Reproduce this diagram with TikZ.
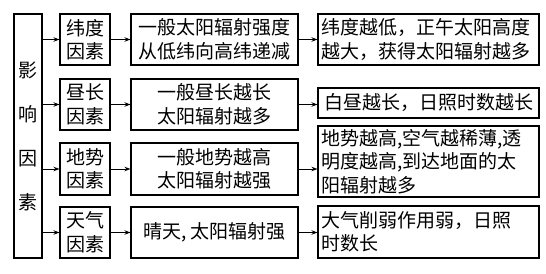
\documentclass[tikz,border=0pt]{standalone}
\usepackage{fontspec}
\setmainfont{Noto Sans CJK SC}
\usetikzlibrary{arrows.meta}
\begin{document}
\begin{tikzpicture}[x=1pt,y=1pt,
  box/.style={draw=black,line width=1.1pt,rectangle,inner sep=0pt,
    font=\fontsize{19}{23.5}\selectfont},
  cbox/.style={box,align=center},
  lbox/.style={box,align=left,text width=#1},
  arr/.style={line width=0.9pt,-{Stealth[length=6pt,width=4.5pt]}}
]
\useasboundingbox (0,0) rectangle (546,273);
% left box
\node[box,minimum width=28pt,minimum height=244pt,align=center,
  font=\fontsize{19}{44}\selectfont] (L) at (28,137) {影\\响\\因\\素};
% column 2
\node[cbox,minimum width=50pt,minimum height=51pt] (A1) at (85,233.5) {纬度\\因素};
\node[cbox,minimum width=50pt,minimum height=51pt] (A2) at (85,168.5) {昼长\\因素};
\node[cbox,minimum width=50pt,minimum height=52pt] (A3) at (85,104) {地势\\因素};
\node[cbox,minimum width=50pt,minimum height=51pt] (A4) at (85,40.5) {天气\\因素};
% column 3
\node[cbox,minimum width=167pt,minimum height=51pt] (B1) at (214.5,233.5) {一般太阳辐射强度\\从低纬向高纬递减};
\node[cbox,minimum width=167pt,minimum height=51pt] (B2) at (214.5,168.5) {一般昼长越长\\太阳辐射越多};
\node[cbox,minimum width=167pt,minimum height=52pt] (B3) at (214.5,104) {一般地势越高\\太阳辐射越强};
\node[cbox,minimum width=167pt,minimum height=51pt] (B4) at (214.5,40.5) {晴天, 太阳辐射强};
% column 4
\node[lbox=215pt,minimum width=221pt,minimum height=51pt] (C1) at (428.5,233.5) {纬度越低，正午太阳高度\\越大，获得太阳辐射越多};
\node[cbox,minimum width=221pt,minimum height=30pt] (C2) at (428.5,170) {白昼越长，日照时数越长};
\node[lbox=215pt,minimum width=221pt,minimum height=71pt] (C3) at (428.5,111.5) {地势越高,空气越稀薄,透\\明度越高,到达地面的太\\阳辐射越多};
\node[lbox=215pt,minimum width=221pt,minimum height=52pt] (C4) at (428.5,41) {大气削弱作用弱，日照\\时数长};
% arrows
\foreach \i in {1,2,3,4}{
  \draw[arr] (L.east |- A\i.west) -- (A\i.west);
  \draw[arr] (A\i.east) -- (B\i.west);
}
\draw[arr] (B1.east) -- (B1.east -| C1.west);
\draw[arr] (B2.east) -- (B2.east -| C2.west);
\draw[arr] (B3.east) -- (B3.east -| C3.west);
\draw[arr] (B4.east) -- (B4.east -| C4.west);
\end{tikzpicture}
\end{document}
